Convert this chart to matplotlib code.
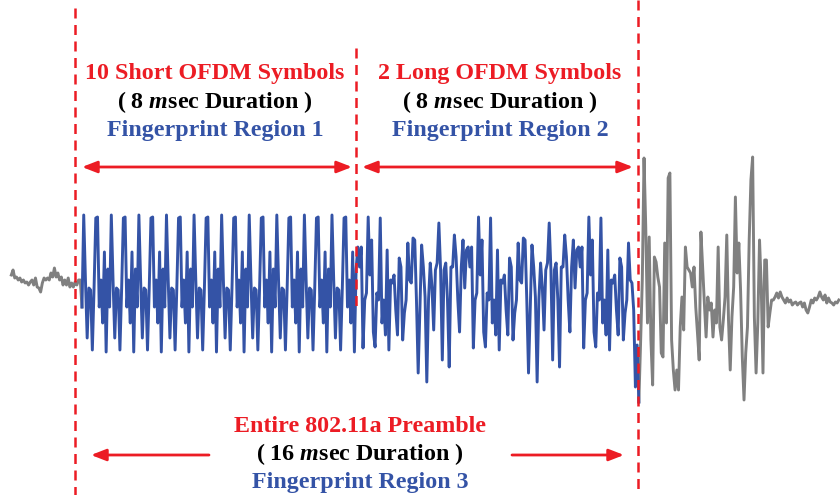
import numpy as np
import matplotlib
matplotlib.use("Agg")
import matplotlib.pyplot as plt

# waveform samples (pixel offsets above the baseline)
short_symbol = [72, 73, -17, 10, -33, 38, -62, 21, -17, 75, 10, -48, 2, 0, -60, 2]
long_symbol = [52, 50, -10, -83, -20, 45, 23, -7, -92, -10, 27, 3, -40, 20, 27, 67,
               20, -70, 20, 27, -10, -77, 23,
               23, 55, 33, -10, -42, 23, 50, 2, 40, 43, 23, 43, -58, -10, -3, 73,
               15, 50, -42, -57, -3, -10, 72, -33, -10, -45, 40, -60, 10, 7, 15,
               -20, -45, 32, 23, -50, -23, -10, 47, 10, 7]
blue_tail = [-20, -97, -55, -112]
noise_before = [15, 20, 12, 13, 10, 12, 8, 10, 7, 8, 5, 8, 10, 5, 12, 3, 2, -2, 7, 12,
                10, 12, 10, 17, 13, 22, 13, 17, 10, 13, 5, 10, 5, 12, 3, 7, 3, 8, 5, 10, 10]
signal_after = [-53, 10, 132, 63, -33, 53, -50, -95, 33, 28, 13, 3, -63, -67, 47, -33,
                112, 117, -50, -80, -100, -80, -100, -37, -7, -40, 43, 23, 20, 17, 3, 23,
                -17, -43, -70, 58, 23, -13, -47, -7, -20, -13, -47, -20, -33, 43, -37,
                -50, -30, -7, 55, -30, -80, -27, 3, 93, 17, 47, 0, -67, -110, -63, -37,
                50, 110, 133, -27, -83, -33, 50, 3, -83, 30, 30, -37, -23]
noise_after = [-10, -10, -7, -3, -8, -2, -7, -10, -13, -8, -12, -10, -15, -13, -12, -15,
               -13, -12, -17, -13, -20, -23, -17, -10, -13, -8, -10, -7, -2, -7, -10, -5,
               -13, -8, -12, -13, -15, -12, -13, -10]

RED = "#ec1c24"
BLUE = "#3453a6"
GRAY = "#808080"

plt.rcParams["font.family"] = "Liberation Serif"
plt.rcParams["mathtext.fontset"] = "custom"
plt.rcParams["mathtext.rm"] = "Liberation Serif:bold"
plt.rcParams["mathtext.bfit"] = "Liberation Serif:italic:bold"

# preamble: 10 short symbols, guard interval, 2 long symbols
short = np.tile(np.roll(short_symbol, -8), 10)
long_ = np.array(long_symbol)
blue = np.concatenate([short, long_[-32:], long_, long_, blue_tail])

x0, dx, base = 82, 1.724, 290
xb = x0 + dx * np.arange(len(blue))
xl = x0 - dx * np.arange(len(noise_before), 0, -1)
gray_r = np.concatenate([[blue[-1]], signal_after, noise_after])
xr = xb[-1] + dx * np.arange(len(gray_r))

fig = plt.figure(figsize=(8.4, 4.95), dpi=100)
ax = fig.add_axes([0, 0, 1, 1])
ax.set_xlim(0, 840)
ax.set_ylim(495, 0)
ax.axis("off")

ax.plot(np.append(xl, xb[0]), base - np.append(noise_before, blue[0]), color=GRAY, lw=2.1)
ax.plot(xr, base - gray_r, color=GRAY, lw=2.1)
ax.plot(xb, base - blue, color=BLUE, lw=2.1)

# region borders
dash = dict(color=RED, lw=1.8, ls=(0, (4, 2.6)))
ax.plot([75, 75], [8, 495], **dash)
ax.plot([356, 356], [48, 312], **dash)
ax.plot([638, 638], [0, 495], **dash)

arr2 = dict(arrowstyle="<|-|>,head_length=0.9,head_width=0.35", color=RED, lw=2, shrinkA=0, shrinkB=0)
arr1 = dict(arrowstyle="-|>,head_length=0.9,head_width=0.35", color=RED, lw=2, shrinkA=0, shrinkB=0)
ax.annotate("", xy=(352, 167), xytext=(82, 167), arrowprops=arr2)
ax.annotate("", xy=(633, 167), xytext=(362, 167), arrowprops=arr2)
ax.annotate("", xy=(91, 455), xytext=(209, 455), arrowprops=arr1)
ax.annotate("", xy=(624, 455), xytext=(512, 455), arrowprops=arr1)

fs = 17.3
blocks = [
    (215, 74, "10 Short OFDM Symbols", "( 8 $\\mathbfit{m}$sec Duration )", "Fingerprint Region 1"),
    (500, 74, "2 Long OFDM Symbols", "( 8 $\\mathbfit{m}$sec Duration )", "Fingerprint Region 2"),
    (360, 426, "Entire 802.11a Preamble", "( 16 $\\mathbfit{m}$sec Duration )", "Fingerprint Region 3"),
]
for cx, cy, l1, l2, l3 in blocks:
    ax.text(cx, cy, l1, color=RED, fontsize=fs, fontweight="bold", ha="center", va="center")
    ax.text(cx, cy + 28.5, l2, color="black", fontsize=fs, fontweight="bold", ha="center", va="center")
    ax.text(cx, cy + 56.5, l3, color=BLUE, fontsize=fs, fontweight="bold", ha="center", va="center")

fig.savefig("out.png", dpi=100)
